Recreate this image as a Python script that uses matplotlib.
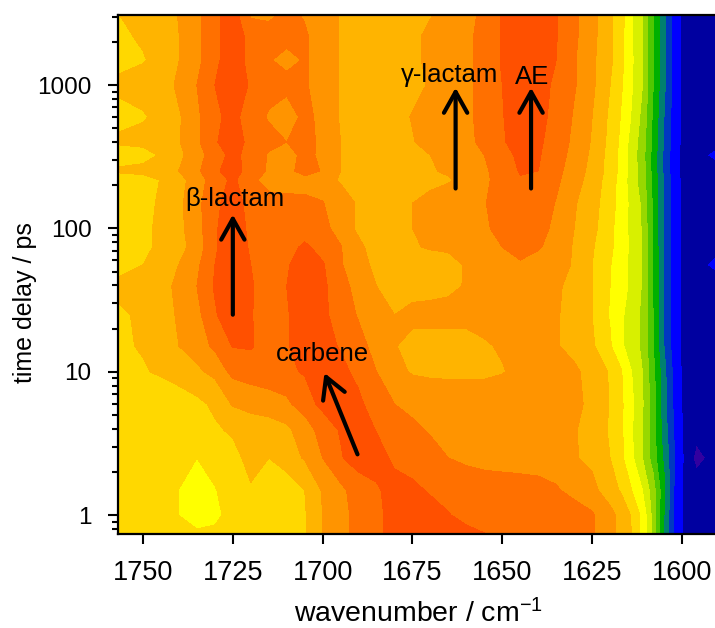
import matplotlib
matplotlib.use("Agg")
import matplotlib.pyplot as plt
from matplotlib.colors import BoundaryNorm, ListedColormap
from matplotlib.ticker import LogLocator, NullFormatter, FixedLocator, FixedFormatter
import numpy as np

plt.rcParams["font.family"] = ["Liberation Sans", "DejaVu Sans"]
plt.rcParams["mathtext.fontset"] = "custom"
plt.rcParams["mathtext.rm"] = "Liberation Sans"
plt.rcParams["mathtext.default"] = "regular"

wavenumbers = [1757, 1750, 1742, 1735, 1730, 1725, 1720, 1715, 1710, 1705, 1700, 1695,
               1690, 1685, 1680, 1675, 1670, 1665, 1660, 1655, 1650, 1645, 1640, 1635,
               1630, 1625, 1620, 1617, 1614, 1611, 1608, 1605, 1602, 1599, 1596, 1589]

delays = [3236, 2203, 1496, 1000, 599, 401, 325, 252, 218, 150, 100, 74, 55.6,
          39.6, 24.9, 15.1, 10, 5.95, 3.92, 2.5, 1.49, 1, 0.70]

# signal per delay row
signal = [
    [11.0, 11.5, 11.8, 12.7, 13.8, 14.5, 12.7, 12.6, 13.2, 12.9, 12.6, 11.9, 11.5, 11.5, 11.5, 11.6, 11.9, 12.3, 12.7, 13.2, 14.1, 14.5, 14.5, 14.05, 13.2, 12.3, 11.2, 10.4, 9.1, 8.0, 6.0, 4.2, 2.5, 1.6, 1.5, 1.5],
    [10.7, 11.2, 11.7, 12.7, 13.8, 14.5, 13.7, 13.5, 13.5, 13.1, 12.6, 11.9, 11.5, 11.5, 11.5, 11.8, 12.2, 12.5, 12.8, 13.3, 14.1, 14.5, 14.5, 14.05, 13.2, 12.3, 11.2, 10.35, 9.1, 8.0, 6.0, 4.2, 2.5, 1.6, 1.5, 1.5],
    [10.5, 10.9, 11.7, 12.7, 13.8, 14.5, 13.7, 13.1, 12.6, 13.1, 12.6, 11.9, 11.5, 11.5, 11.5, 11.8, 12.2, 12.5, 12.8, 13.3, 14.1, 14.5, 14.5, 14.0, 13.1, 12.2, 11.2, 10.3, 9.15, 8.0, 6.0, 4.2, 2.5, 1.6, 1.5, 1.5],
    [11.3, 11.5, 11.9, 13.0, 14.0, 14.5, 13.9, 13.4, 13.4, 13.1, 12.6, 11.9, 11.5, 11.5, 11.6, 11.7, 12.1, 12.5, 12.8, 13.3, 14.0, 14.5, 14.4, 13.8, 13.1, 12.2, 11.0, 10.15, 9.1, 8.0, 6.0, 4.2, 2.5, 1.6, 1.5, 1.5],
    [10.6, 10.9, 11.5, 12.8, 13.8, 14.3, 13.5, 12.9, 12.4, 13.3, 12.7, 11.9, 11.5, 11.5, 11.7, 12.05, 12.3, 12.5, 12.8, 13.3, 13.95, 14.5, 14.3, 13.7, 12.9, 12.0, 10.8, 9.95, 8.9, 7.7, 5.8, 4.0, 2.4, 1.6, 1.5, 1.5],
    [11.2, 11.3, 11.6, 12.8, 13.9, 14.5, 13.7, 13.3, 13.0, 13.3, 12.8, 12.0, 11.5, 11.5, 11.7, 11.95, 12.3, 12.5, 12.8, 13.2, 13.9, 14.4, 14.2, 13.5, 12.8, 11.9, 10.7, 9.8, 8.6, 7.5, 5.7, 3.9, 2.4, 1.6, 1.5, 1.7],
    [10.3, 10.6, 11.4, 12.6, 13.5, 14.3, 13.6, 12.9, 12.4, 13.4, 12.7, 12.0, 11.5, 11.5, 11.6, 11.8, 12.0, 12.2, 12.6, 13.0, 13.5, 14.3, 14.1, 13.4, 12.7, 11.8, 10.6, 9.7, 8.5, 7.4, 5.6, 3.8, 2.3, 1.6, 1.6, 2.4],
    [11.2, 11.3, 11.7, 12.8, 13.8, 14.5, 13.5, 12.9, 12.6, 13.5, 12.9, 12.0, 11.5, 11.5, 11.6, 11.7, 11.9, 12.15, 12.6, 12.9, 13.3, 14.1, 14.0, 13.3, 12.5, 11.7, 10.6, 9.7, 8.6, 7.5, 5.6, 3.8, 2.3, 1.6, 1.5, 1.7],
    [10.3, 10.6, 11.3, 12.5, 13.5, 14.2, 13.3, 12.5, 12.3, 12.6, 12.4, 11.9, 11.5, 11.4, 11.5, 11.6, 11.7, 11.9, 12.3, 12.9, 13.2, 13.9, 13.7, 13.2, 12.4, 11.6, 10.5, 9.6, 8.5, 7.5, 5.7, 3.9, 2.4, 1.6, 1.5, 1.5],
    [10.4, 10.7, 11.4, 12.7, 13.8, 14.4, 13.7, 13.4, 13.4, 13.2, 13.05, 12.4, 11.9, 11.5, 11.5, 12.0, 12.3, 12.5, 12.7, 12.95, 13.4, 13.6, 13.5, 12.95, 12.1, 11.4, 10.4, 9.6, 8.7, 7.8, 5.8, 3.9, 2.4, 1.6, 1.5, 1.5],
    [10.4, 10.8, 11.4, 12.6, 13.9, 14.5, 13.8, 13.5, 13.5, 13.4, 13.3, 12.6, 11.8, 11.5, 11.6, 12.0, 12.2, 12.5, 12.7, 12.9, 13.2, 13.5, 13.3, 12.8, 12.0, 11.3, 10.25, 9.5, 8.7, 7.9, 5.8, 3.9, 2.4, 1.6, 1.5, 1.5],
    [10.4, 10.8, 11.4, 12.4, 13.9, 14.5, 13.9, 13.5, 13.6, 14.2, 13.6, 13.05, 12.2, 11.6, 11.5, 11.9, 12.1, 12.2, 12.5, 12.7, 13.0, 13.3, 13.1, 12.6, 11.9, 11.1, 10.2, 9.5, 8.8, 7.9, 5.8, 4.0, 2.4, 1.6, 1.5, 1.8],
    [10.5, 11.0, 11.7, 12.8, 14.0, 14.6, 14.0, 13.5, 13.9, 14.5, 14.1, 13.1, 12.3, 11.8, 11.5, 11.5, 11.5, 11.6, 12.1, 12.4, 12.6, 12.9, 12.6, 12.2, 11.95, 11.0, 10.05, 9.4, 8.7, 7.9, 5.8, 4.0, 2.4, 1.6, 1.6, 2.4],
    [11.3, 11.5, 12.0, 13.0, 14.1, 14.7, 14.1, 13.5, 14.0, 14.6, 14.2, 13.4, 12.6, 12.0, 11.7, 11.5, 11.5, 11.7, 12.1, 12.3, 12.4, 12.4, 12.3, 12.1, 11.8, 11.0, 10.0, 9.35, 8.8, 7.9, 5.8, 4.0, 2.4, 1.6, 1.5, 1.6],
    [10.8, 11.2, 11.9, 12.7, 13.9, 14.6, 14.05, 13.6, 13.9, 14.6, 14.2, 13.6, 12.9, 12.4, 12.0, 12.3, 12.4, 12.4, 12.4, 12.4, 12.4, 12.4, 12.3, 12.1, 11.6, 11.0, 9.9, 9.2, 8.5, 7.8, 6.0, 4.0, 2.4, 1.6, 1.5, 1.5],
    [10.8, 11.1, 11.8, 12.5, 13.2, 14.05, 14.1, 13.5, 13.9, 14.6, 14.4, 13.9, 13.3, 12.7, 12.05, 11.7, 11.6, 11.6, 11.6, 11.9, 12.1, 12.3, 12.3, 12.1, 11.6, 11.15, 10.1, 9.2, 8.5, 7.8, 6.0, 4.0, 2.4, 1.6, 1.5, 1.5],
    [10.5, 10.9, 11.3, 11.8, 12.3, 13.3, 13.5, 13.6, 13.8, 14.1, 14.6, 14.3, 13.7, 13.0, 12.3, 11.9, 11.8, 11.8, 11.8, 11.8, 11.95, 12.2, 12.3, 12.4, 12.2, 11.6, 10.9, 10.1, 9.0, 8.0, 6.3, 4.3, 2.6, 1.6, 1.5, 1.5],
    [10.3, 10.4, 10.5, 10.8, 11.15, 12.1, 12.4, 12.6, 12.8, 13.5, 14.3, 14.5, 14.2, 13.5, 13.0, 12.7, 12.6, 12.5, 12.5, 12.5, 12.5, 12.5, 12.5, 12.5, 12.3, 11.7, 10.95, 10.2, 9.2, 8.1, 6.4, 4.4, 2.7, 1.6, 1.5, 1.5],
    [10.3, 10.3, 10.4, 10.6, 10.9, 11.1, 11.4, 11.5, 11.8, 12.5, 13.4, 14.1, 14.6, 13.95, 13.5, 13.2, 12.9, 12.7, 12.6, 12.6, 12.5, 12.5, 12.5, 12.4, 12.1, 11.5, 10.9, 10.2, 9.1, 8.0, 6.4, 4.5, 2.8, 1.7, 1.4, 1.5],
    [10.4, 10.3, 10.3, 10.0, 10.4, 10.8, 11.2, 11.0, 11.5, 12.1, 13.0, 13.9, 14.6, 14.4, 13.8, 13.5, 13.3, 13.0, 12.8, 12.6, 12.5, 12.5, 12.5, 12.4, 12.1, 11.7, 11.0, 10.25, 9.2, 8.0, 6.5, 4.8, 3.0, 1.7, 0.7, 1.5],
    [10.4, 10.3, 10.2, 9.4, 9.95, 10.4, 10.95, 10.5, 10.5, 11.0, 12.1, 12.8, 13.4, 13.9, 14.3, 14.2, 13.9, 13.6, 13.5, 13.5, 13.5, 13.4, 13.3, 13.1, 12.7, 12.3, 11.4, 10.9, 10.0, 9.0, 7.4, 5.2, 2.8, 1.7, 1.4, 1.5],
    [10.5, 10.4, 10.2, 9.4, 9.8, 10.3, 10.4, 10.5, 10.6, 10.9, 12.0, 12.7, 13.3, 13.8, 14.3, 14.5, 14.3, 14.05, 13.7, 13.5, 13.5, 13.5, 13.5, 13.5, 13.4, 13.1, 12.3, 11.7, 10.9, 9.7, 7.6, 5.0, 2.8, 1.7, 1.5, 1.5],
    [10.5, 10.5, 10.4, 10.3, 10.2, 10.4, 10.5, 10.5, 10.6, 10.9, 12.05, 12.7, 13.3, 13.8, 14.3, 14.5, 14.5, 14.4, 14.3, 14.1, 13.7, 13.5, 13.5, 13.5, 13.4, 13.1, 12.3, 11.7, 11.0, 9.7, 7.6, 5.0, 2.8, 1.7, 1.5, 1.5],
]

band_colors = ["#3200a0", "#0000a0", "#0000ff", "#0038c0", "#008070", "#00b000", "#50c800",
               "#98d800", "#d8f000", "#ffff00", "#ffd800", "#ffb400", "#ff9400", "#ff7000",
               "#ff5000"]
band_edges = list(range(16))

x_ticks = [1750, 1725, 1700, 1675, 1650, 1625, 1600]
y_ticks = [1, 10, 100, 1000]
y_tick_labels = ["1", "10", "100", "1000"]

# label, text x, text y, arrow tail (x, y), arrow head (x, y)
labels = [
    ("\u03b2-lactam", 1724.4, 160, (1725, 25), (1725, 125)),
    ("carbene", 1700.2, 13.4, (1690.3, 2.65), (1699.5, 9.8)),
    ("\u03b3-lactam", 1664.7, 1170, (1663, 190), (1663, 960)),
    ("AE", 1641.7, 1140, (1642, 190), (1642, 960)),
]

W, H = 715, 628
fig = plt.figure(figsize=(W / 100, H / 100), dpi=100)
ax = fig.add_axes([118 / W, 1 - 534 / H, (718 - 118) / W, (534 - 15) / H])

cmap = ListedColormap(band_colors)
norm = BoundaryNorm(band_edges, cmap.N)
ax.contourf(wavenumbers, delays, np.array(signal), levels=band_edges, cmap=cmap, norm=norm)

ax.set_yscale("log")
ax.set_xlim(1756.96, 1589.97)
ax.set_ylim(0.737, 3087)

ax.xaxis.set_major_locator(FixedLocator(x_ticks))
ax.xaxis.set_major_formatter(FixedFormatter([str(v) for v in x_ticks]))
ax.yaxis.set_major_locator(FixedLocator(y_ticks))
ax.yaxis.set_major_formatter(FixedFormatter(y_tick_labels))
ax.yaxis.set_minor_locator(LogLocator(base=10, subs=np.arange(2, 10), numticks=12))
ax.yaxis.set_minor_formatter(NullFormatter())

ax.tick_params(axis="x", which="major", length=7, width=1.5, labelsize=19.5, pad=12)
ax.tick_params(axis="y", which="major", length=7, width=1.5, labelsize=17.5, pad=12)
ax.tick_params(axis="y", which="minor", length=4, width=1.5)
for sp in ax.spines.values():
    sp.set_linewidth(1.6)

ax.set_xlabel("wavenumber / cm$^{-1}$", fontsize=20.5, labelpad=9)
ax.set_ylabel("time delay / ps", fontsize=18, labelpad=0, y=0.445)

for text, tx, ty, tail, head in labels:
    ax.text(tx, ty, text, fontsize=18.5, ha="center", va="center", color="black")
    ax.annotate("", xy=head, xytext=tail,
                arrowprops=dict(arrowstyle="->,head_length=0.75,head_width=0.42", lw=3,
                                color="black", shrinkA=0, shrinkB=0, mutation_scale=20))

fig.savefig("out.png", dpi=100)
plt.close(fig)
